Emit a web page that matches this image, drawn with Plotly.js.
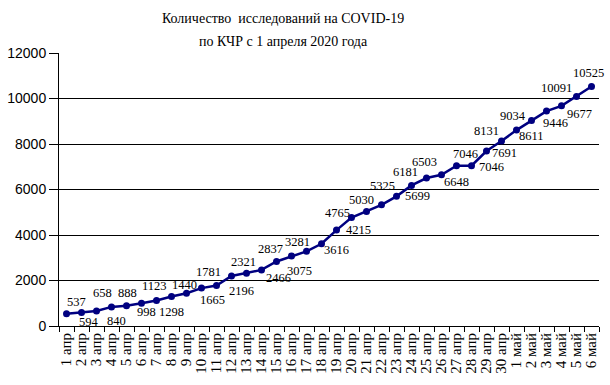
<!DOCTYPE html>
<html>
<head>
<meta charset="utf-8">
<script src="https://cdn.plot.ly/plotly-3.0.1.min.js"></script>
<style>html,body{margin:0;padding:0;background:#fff;}#chart{width:610px;height:385px;}</style>
</head>
<body>
<div id="chart"></div>
<script>
const categories = [
  "1 апр","2 апр","3 апр","4 апр","5 апр","6 апр","7 апр","8 апр","9 апр","10 апр",
  "11 апр","12 апр","13 апр","14 апр","15 апр","16 апр","17 апр","18 апр","19 апр","20 апр",
  "21 апр","22 апр","23 апр","24 апр","25 апр","26 апр","27 апр","28 апр","29 апр","30 апр",
  "1 май","2 май","3 май","4 май","5 май","6 май"
];
const tests = [
  537, 594, 658, 840, 888, 998, 1123, 1298, 1440, 1665,
  1781, 2196, 2321, 2466, 2837, 3075, 3281, 3616, 4215, 4765,
  5030, 5325, 5699, 6181, 6503, 6648, 7046, 7046, 7691, 8131,
  8611, 9034, 9446, 9677, 10091, 10525
];
const yTicks = [0, 2000, 4000, 6000, 8000, 10000, 12000];
const titleLine1 = "Количество\u00a0 исследований на COVID-19";
const titleLine2 = "по КЧР с 1 апреля 2020 года";

// label offsets from each point in pixels: [right, down]
const labelOffsets = [
  [10,-12],[7,10],[6,-18],[5,14],[1,-13],[5,9],[-2,-14],[0,16],[-2,-8],[11,12],
  [-8,-13],[10,15],[-3,-11],[17,8],[-6,-12],[8,15],[-9,-9],[15,6],[22,0],[-14,-5],
  [-5,-12],[1,-19],[21,0],[-6,-13],[-2,-16],[15,7],[9,-12],[20,1],[18,2],[-15,-10],
  [15,6],[-19,-4],[9,12],[18,8],[-20,-8],[-3,-14]
];

const serif = "Liberation Serif, Times New Roman, serif";
const navy = "#000080";
const trace = {
  type: "scatter",
  mode: "lines+markers",
  x: categories,
  y: tests,
  line: {color: navy, width: 2.5},
  marker: {color: navy, size: 7, symbol: "circle"},
  cliponaxis: false,
  hoverinfo: "x+y"
};

const annotations = tests.map((v, i) => ({
  x: categories[i], y: v, xref: "x", yref: "y",
  text: String(v), showarrow: false,
  xanchor: "center", yanchor: "middle",
  xshift: labelOffsets[i][0], yshift: -labelOffsets[i][1],
  font: {family: serif, size: 12.5, color: "#000"}
}));

const layout = {
  width: 610, height: 385,
  margin: {l: 59, r: 11, t: 53, b: 59, autoexpand: false},
  paper_bgcolor: "#fff", plot_bgcolor: "#fff",
  showlegend: false,
  title: {
    text: '<span style="font-size:14px">' + titleLine1 + '</span><br><span style="font-size:14px">' + titleLine2 + '</span>',
    font: {family: serif, size: 18, color: "#000"},
    x: 0.464, xanchor: "center", xref: "container",
    y: 1 - 23 / 385, yanchor: "top",
    automargin: false
  },
  annotations: annotations,
  xaxis: {
    type: "category",
    range: [-0.5, categories.length - 0.5],
    tickmode: "array",
    tickvals: categories,
    ticktext: categories,
    tickangle: -90,
    tickfont: {family: serif, size: 15, color: "#000"},
    ticks: "outside", ticklen: 5, tickcolor: "#000", tickson: "boundaries",
    showline: true, linecolor: "#000", linewidth: 1,
    showgrid: false, zeroline: false, automargin: false
  },
  yaxis: {
    range: [0, 12000],
    tickvals: yTicks,
    ticktext: yTicks.map(String),
    tickfont: {family: "Liberation Sans, Arial, sans-serif", size: 14, color: "#000"},
    ticks: "outside", ticklen: 9, tickcolor: "#000",
    showline: true, linecolor: "#000", linewidth: 1,
    showgrid: true, gridcolor: "#000", gridwidth: 1,
    zeroline: false, automargin: false
  }
};

Plotly.newPlot("chart", [trace], layout, {displayModeBar: false, staticPlot: true});
</script>
</body>
</html>
